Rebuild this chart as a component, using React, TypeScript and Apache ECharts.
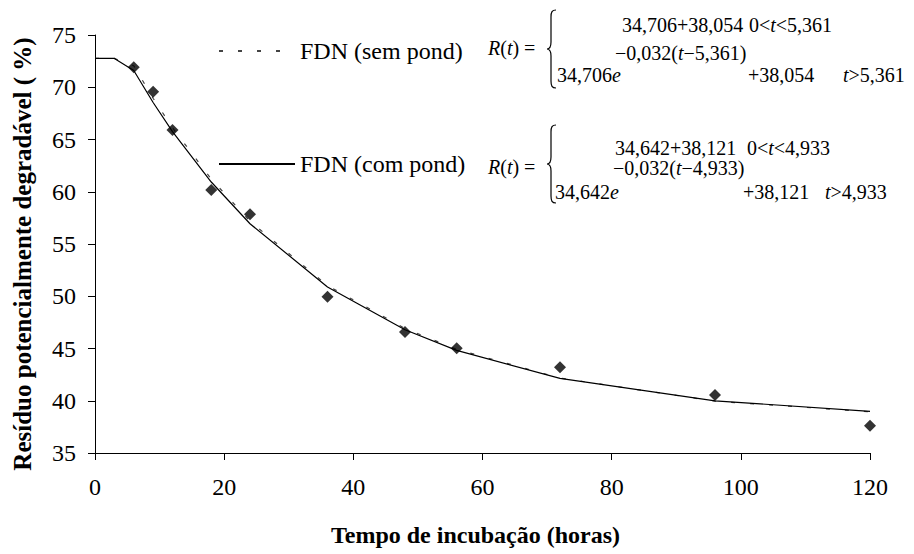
import React, { useEffect, useRef } from "react";
import * as echarts from "echarts";

// Observed points (diamonds)
const hours = [6, 9, 12, 18, 24, 36, 48, 56, 72, 96, 120];
const observed = [71.91, 69.57, 65.91, 60.17, 57.84, 49.96, 46.58, 45.02, 43.2, 40.55, 37.61];

// Fitted curves (vertices)
const curveHours = [0, 3, 6, 9, 12, 18, 24, 36, 48, 56, 72, 96, 120];
const semPond = [72.76, 72.76, 72.06, 68.95, 66.12, 61.22, 57.17, 51.02, 46.92, 44.92, 42.17, 39.96, 38.94];
const comPond = [72.76, 72.76, 71.6, 68.54, 65.76, 60.93, 56.94, 50.89, 46.79, 44.82, 42.14, 39.99, 38.99];

const seriesNames = ["FDN (sem pond)", "FDN (com pond)", "Observado"];
const xAxisTitle = "Tempo de incubação (horas)";
const yAxisTitle = "Resíduo potencialmente degradável ( %)";

const F = "Liberation Serif";

const BRACE =
  "M9,0 C5,0 4,2 4,7 L4,32 C4,36 3,39 0,39 C3,39 4,42 4,46 L4,71 C4,76 5,78 9,78";
echarts.graphic.registerShape("brace", echarts.graphic.extendPath(BRACE, {}));

const txt = (x: number, y: number, text: string, fontSize = 20) => ({
  type: "text",
  x,
  y,
  silent: true,
  style: {
    text,
    fontSize,
    fontFamily: F,
    fill: "#000",
    align: "left",
    verticalAlign: "middle",
    rich: {
      i: { fontStyle: "italic", fontSize, fontFamily: F, fill: "#000" },
    },
  },
});

const brace = (x: number, y: number) => ({
  type: "brace",
  x,
  y,
  silent: true,
  style: { stroke: "#000", fill: "none", lineWidth: 1.2 },
});

export default function App() {
  const ref = useRef<HTMLDivElement>(null);
  useEffect(() => {
    if (!ref.current) return;
    const chart = echarts.init(ref.current, undefined, { renderer: "svg" });
    const pair = (xs: number[], ys: number[]) => xs.map((x, i) => [x, ys[i]]);
    chart.setOption({
      animation: false,
      backgroundColor: "#fff",
      textStyle: { fontFamily: F },
      grid: { left: 95, right: 44, top: 35, bottom: 101 },
      legend: {
        orient: "vertical",
        left: 213,
        top: 34,
        itemWidth: 76,
        itemHeight: 12,
        itemGap: 89,
        itemStyle: { opacity: 0 },
        textStyle: { fontSize: 24, fontFamily: F, color: "#000" },
        data: [seriesNames[0], seriesNames[1]],
      },
      xAxis: {
        type: "value",
        min: 0,
        max: 120,
        interval: 20,
        name: xAxisTitle,
        nameLocation: "middle",
        nameGap: 70,
        nameTextStyle: {
          fontSize: 24,
          fontWeight: "bold",
          fontFamily: F,
          color: "#000",
          padding: [0, 14, 0, 0],
        },
        axisLine: { lineStyle: { color: "#000", width: 1 } },
        axisTick: { show: true, inside: false, length: 7, lineStyle: { color: "#000" } },
        axisLabel: { fontSize: 24, fontFamily: F, color: "#000", margin: 22 },
        splitLine: { show: false },
      },
      yAxis: {
        type: "value",
        min: 35,
        max: 75,
        interval: 5,
        name: yAxisTitle,
        nameLocation: "middle",
        nameGap: 60,
        nameTextStyle: {
          fontSize: 25,
          fontWeight: "bold",
          fontFamily: F,
          color: "#000",
          padding: [0, 20, 0, 0],
        },
        axisLine: { show: true, lineStyle: { color: "#000", width: 1 } },
        axisTick: { show: true, inside: false, length: 7, lineStyle: { color: "#000" } },
        axisLabel: { fontSize: 24, fontFamily: F, color: "#000", margin: 19 },
        splitLine: { show: false },
      },
      series: [
        {
          name: seriesNames[0],
          type: "line",
          data: pair(curveHours, semPond),
          symbol: "none",
          lineStyle: { color: "#444", width: 1.2, type: [4, 15] },
          itemStyle: { color: "#444" },
          z: 2,
        },
        {
          name: seriesNames[1],
          type: "line",
          data: pair(curveHours, comPond),
          symbol: "none",
          lineStyle: { color: "#000", width: 1.2, type: "solid" },
          itemStyle: { color: "#000" },
          z: 3,
        },
        {
          name: seriesNames[2],
          type: "scatter",
          data: pair(hours, observed),
          symbol: "diamond",
          symbolSize: 12,
          itemStyle: { color: "#000" },
          z: 4,
        },
      ],
      graphic: [
        // Equation 1 (sem pond)
        txt(488, 48, "{i|R}({i|t}) ="),
        brace(547, 10),
        txt(622, 25, "34,706+38,054"),
        txt(749, 25, "0<{i|t}<5,361"),
        txt(557, 75, "34,706{i|e}"),
        txt(615, 53, "−0,032({i|t}−5,361)"),
        txt(748, 75, "+38,054"),
        txt(843, 75, "{i|t}>5,361"),
        // Equation 2 (com pond)
        txt(488, 167, "{i|R}({i|t}) ="),
        brace(547, 125),
        txt(615, 148, "34,642+38,121"),
        txt(747, 148, "0<{i|t}<4,933"),
        txt(555, 192, "34,642{i|e}"),
        txt(613, 168, "−0,032({i|t}−4,933)"),
        txt(743, 192, "+38,121"),
        txt(825, 192, "{i|t}>4,933"),
      ],
    });
    return () => chart.dispose();
  }, []);
  return (
    <div
      ref={ref}
      style={{ position: "fixed", left: 0, top: 0, width: 914, height: 554, background: "#fff" }}
    />
  );
}
